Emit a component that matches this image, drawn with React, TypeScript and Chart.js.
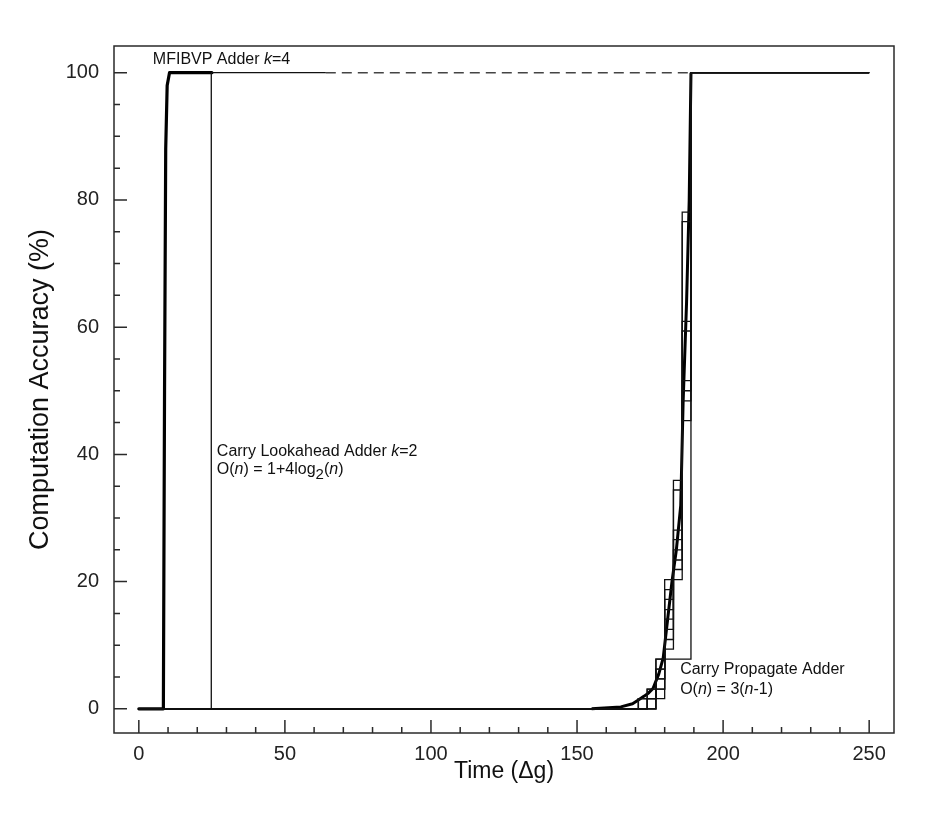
import React, { useEffect, useRef } from "react";
import { Chart, registerables } from "chart.js";

Chart.register(...registerables);

const FONT = '"Liberation Sans", Arial, Helvetica, sans-serif';

// ---- axis ticks ----
const xMajorTicks = [0, 50, 100, 150, 200, 250];
const xMinorTicks = [10, 20, 30, 40, 60, 70, 80, 90, 110, 120, 130, 140, 160, 170, 180, 190, 210, 220, 230, 240];
const yMajorTicks = [0, 20, 40, 60, 80, 100];
const yMinorTicks = [5, 10, 15, 25, 30, 35, 45, 50, 55, 65, 70, 75, 85, 90, 95];

// ---- MFIBVP Adder k=4 (thick) ----
const mfibvpTimes = [0, 8.4, 8.8, 9.2, 9.7, 10.5, 25];
const mfibvpValues = [0, 0, 50, 88, 98, 100, 100];

// ---- Carry Lookahead Adder k=2 ----
const claTimes = [0, 24.8, 64];
const claValues = [0, 100, 100];

// ---- continuation (dashed) ----
const dashTimes = [64, 189];
const dashValues = [100, 100];

// ---- Carry Propagate Adder trials (stepped) ----
const cpaTimes = [0, 165, 168, 171, 174, 177, 180, 183, 186, 189, 250];
const cpaTrial1 = [0, 0, 0, 1.6, 3.1, 7.8, 20.3, 35.9, 78.1, 100, 100];
const cpaTrial2 = [0, 0, 0, 0, 1.6, 6.25, 18.75, 34.4, 76.6, 100, 100];
const cpaTrial3 = [0, 0, 0, 1.6, 3.1, 4.7, 17.2, 28.1, 60.9, 100, 100];
const cpaTrial4 = [0, 0, 0, 0, 1.6, 6.25, 15.6, 26.6, 59.4, 100, 100];
const cpaTrial5 = [0, 0, 0, 0, 0, 4.7, 14.1, 25, 51.6, 100, 100];
const cpaTrial6 = [0, 0, 0, 1.6, 1.6, 3.1, 12.5, 23.4, 50, 100, 100];
const cpaTrial7 = [0, 0, 0, 0, 1.6, 3.1, 10.9, 21.9, 48.4, 100, 100];
const cpaTrial8 = [0, 0, 0, 0, 0, 1.6, 9.4, 20.3, 45.3, 100, 100];
const cpaTrial9 = [0, 0, 0, 0, 0, 7.8, 7.8, 7.8, 7.8, 100, 100];

// ---- Carry Propagate Adder ensemble (thick) ----
const cpaEnsTimes = [155, 165, 169, 171, 173, 174.5, 176, 178, 179.5, 181, 182.5, 184, 185.5, 186.3, 187.5, 188.4, 189];
const cpaEnsValues = [0, 0.3, 0.8, 1.4, 2, 2.5, 3.2, 5.5, 8, 14, 20, 25, 32, 48, 64, 80, 100];

// ---- annotations (anchored in data units) ----
type Seg = { t: string; i?: boolean; sub?: boolean };
type Anno = { x: number; y: number; segs: Seg[] };
const annotations: Anno[] = [
  { x: 4.8, y: 102, segs: [{ t: "MFIBVP Adder " }, { t: "k", i: true }, { t: "=4" }] },
  { x: 26.7, y: 40.4, segs: [{ t: "Carry Lookahead Adder " }, { t: "k", i: true }, { t: "=2" }] },
  {
    x: 26.7,
    y: 37.6,
    segs: [
      { t: "O(" }, { t: "n", i: true }, { t: ") = 1+4log" }, { t: "2", sub: true },
      { t: "(" }, { t: "n", i: true }, { t: ")" },
    ],
  },
  { x: 185.3, y: 6.1, segs: [{ t: "Carry Propagate Adder" }] },
  { x: 185.3, y: 3.0, segs: [{ t: "O(" }, { t: "n", i: true }, { t: ") = 3(" }, { t: "n", i: true }, { t: "-1)" }] },
];

const mk = (ts: number[], vs: number[]) => ts.map((t, i) => ({ x: t, y: vs[i] }));

const decorPlugin = {
  id: "decor",
  afterDraw(chart: any) {
    const { ctx, chartArea: a, scales } = chart;
    const xs = scales.x;
    const ys = scales.y;
    ctx.save();
    ctx.strokeStyle = "#2a2a2a";
    ctx.lineWidth = 1.5;
    ctx.strokeRect(a.left, a.top, a.right - a.left, a.bottom - a.top);
    ctx.beginPath();
    for (const v of xMajorTicks) {
      const p = xs.getPixelForValue(v);
      ctx.moveTo(p, a.bottom);
      ctx.lineTo(p, a.bottom - 13);
    }
    for (const v of xMinorTicks) {
      const p = xs.getPixelForValue(v);
      ctx.moveTo(p, a.bottom);
      ctx.lineTo(p, a.bottom - 6);
    }
    for (const v of yMajorTicks) {
      const p = ys.getPixelForValue(v);
      ctx.moveTo(a.left, p);
      ctx.lineTo(a.left + 13, p);
    }
    for (const v of yMinorTicks) {
      const p = ys.getPixelForValue(v);
      ctx.moveTo(a.left, p);
      ctx.lineTo(a.left + 6, p);
    }
    ctx.stroke();

    ctx.fillStyle = "#111";
    ctx.textBaseline = "middle";
    ctx.textAlign = "left";
    for (const an of annotations) {
      let px = xs.getPixelForValue(an.x);
      const py = ys.getPixelForValue(an.y);
      for (const s of an.segs) {
        ctx.font = `${s.i ? "italic " : ""}${s.sub ? 15 : 16}px ${FONT}`;
        ctx.fillText(s.t, px, s.sub ? py + 5 : py);
        px += ctx.measureText(s.t).width;
      }
    }
    ctx.restore();
  },
};

export default function App() {
  const ref = useRef<HTMLCanvasElement | null>(null);

  useEffect(() => {
    document.body.style.margin = "0";
    if (!ref.current) return;
    const thin = (data: any) => ({
      data,
      borderColor: "#111",
      borderWidth: 1.3,
      stepped: true,
      pointRadius: 0,
      fill: false,
    });
    const cpaTrials = [cpaTrial1, cpaTrial2, cpaTrial3, cpaTrial4, cpaTrial5, cpaTrial6, cpaTrial7, cpaTrial8, cpaTrial9];
    const datasets: any[] = [
      ...cpaTrials.map((vals) => thin(mk(cpaTimes, vals))),
      {
        data: mk(cpaEnsTimes, cpaEnsValues),
        borderColor: "#000",
        borderWidth: 3,
        pointRadius: 0,
        fill: false,
        borderJoinStyle: "round",
      },
      thin(mk(claTimes, claValues)),
      {
        data: mk(mfibvpTimes, mfibvpValues),
        borderColor: "#000",
        borderWidth: 3.2,
        pointRadius: 0,
        fill: false,
        borderJoinStyle: "round",
        borderCapStyle: "round",
      },
      {
        data: mk(dashTimes, dashValues),
        borderColor: "#444",
        borderWidth: 1.6,
        borderDash: [10, 6],
        pointRadius: 0,
        fill: false,
      },
    ];

    const chart = new Chart(ref.current, {
      type: "line",
      data: { datasets },
      options: {
        responsive: false,
        animation: false,
        devicePixelRatio: 1,
        layout: { padding: { top: 46, right: 41, left: 0, bottom: 0 } },
        plugins: { legend: { display: false }, tooltip: { enabled: false } },
        elements: { point: { radius: 0 }, line: { tension: 0 } },
        scales: {
          x: {
            type: "linear",
            min: -8.5,
            max: 258.5,
            grid: { display: false, drawTicks: false },
            border: { display: false },
            ticks: { font: { family: FONT, size: 20 }, color: "#222", padding: 9, autoSkip: false, maxRotation: 0 },
            afterBuildTicks: (s: any) => {
              s.ticks = xMajorTicks.map((v) => ({ value: v }));
            },
            afterFit: (s: any) => {
              s.height = 101;
            },
            title: {
              display: true,
              text: "Time (Δg)",
              font: { family: FONT, size: 23 },
              color: "#111",
              padding: { top: 0, bottom: 49 },
            },
          },
          y: {
            type: "linear",
            min: -3.8,
            max: 104.2,
            grid: { display: false, drawTicks: false },
            border: { display: false },
            ticks: { font: { family: FONT, size: 20 }, color: "#222", padding: 15, autoSkip: false },
            afterBuildTicks: (s: any) => {
              s.ticks = yMajorTicks.map((v) => ({ value: v }));
            },
            afterFit: (s: any) => {
              s.width = 114;
            },
            title: {
              display: true,
              text: "Computation Accuracy (%)",
              font: { family: FONT, size: 27 },
              color: "#111",
              padding: { top: 24, bottom: 0 },
            },
          },
        },
      },
      plugins: [decorPlugin],
    } as any);
    return () => chart.destroy();
  }, []);

  return (
    <div style={{ width: 935, height: 834 }}>
      <canvas ref={ref} width={935} height={834} style={{ display: "block" }} />
    </div>
  );
}
